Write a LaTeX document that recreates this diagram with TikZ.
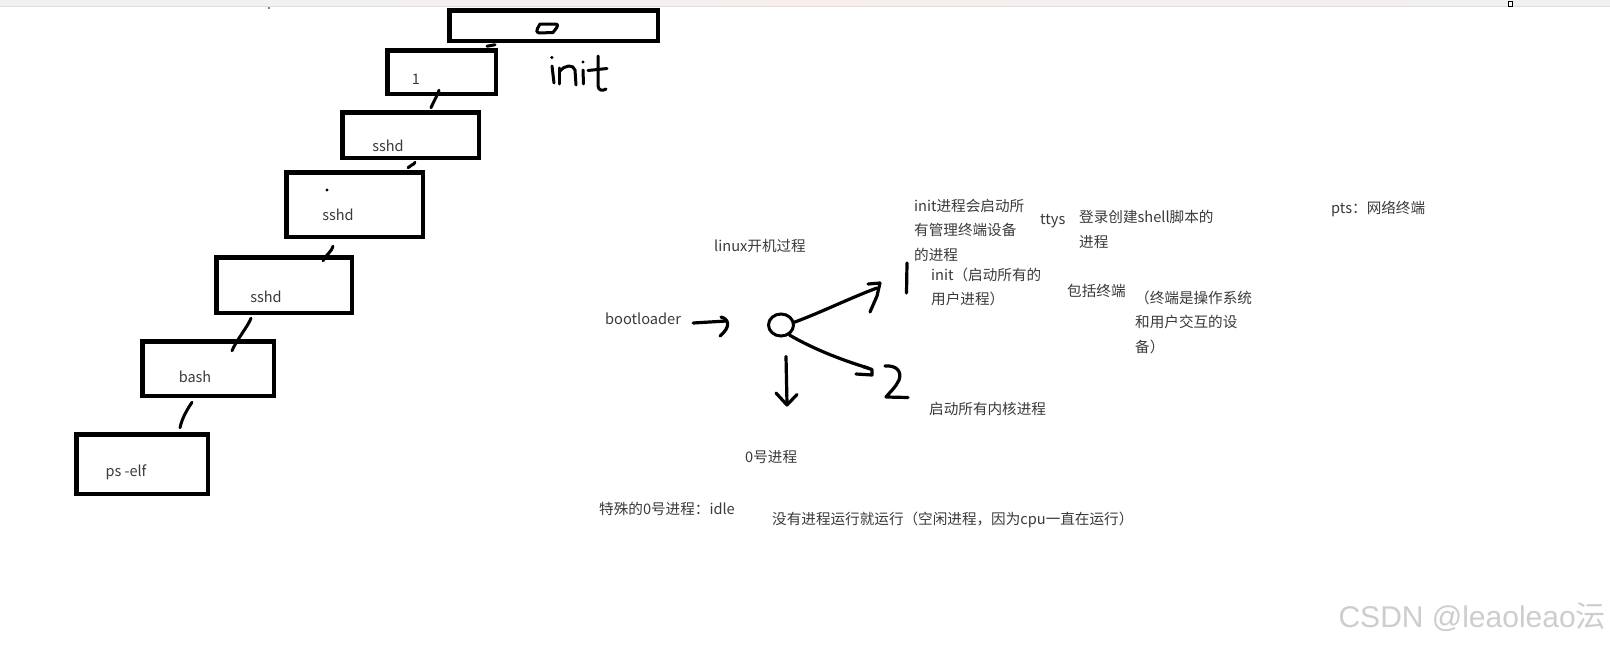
\documentclass[tikz,border=0pt]{standalone}
\usepackage{fontspec}
\setmainfont{Noto Sans CJK SC}
\newfontfamily\wmlatin{Liberation Sans}
\newfontfamily\wmcjk{Noto Sans CJK SC}
\usetikzlibrary{calc,shapes.geometric}
\definecolor{txtgray}{RGB}{58,58,58}
\definecolor{wmgray}{RGB}{205,205,205}
\definecolor{bandA}{RGB}{239,241,243}
\definecolor{bandB}{RGB}{248,238,238}
\definecolor{bandC}{RGB}{242,240,240}
\definecolor{bandline}{RGB}{222,222,222}
\begin{document}
\begin{tikzpicture}[x=1pt,y=-1pt,
  box/.style={draw=black,line width=4.5pt,rectangle,inner sep=0pt},
  hand/.style={draw=black,line width=3.2pt,line cap=round,line join=round},
  wiggle/.style={hand,line width=3pt},
  txt/.style={text=txtgray,font=\fontsize{14.6}{24.5}\selectfont,inner sep=0pt,align=left,anchor=west},
  boxtxt/.style={text=txtgray,font=\fontsize{14.5}{17}\selectfont,inner sep=0pt}
]
\useasboundingbox (0,0) rectangle (1610,645);
\fill[white] (0,0) rectangle (1610,645);
% top band
\shade[left color=bandA,right color=bandC,middle color=bandB] (0,0) rectangle (1610,6.5);
\draw[bandline,line width=1pt] (0,6.5) -- (1610,6.5);
\fill (269,8) circle (0.9);
\draw[line width=0.8pt,fill=white] (1508.5,1) rectangle (1512.5,6);

% boxes of the process chain
\node[box,minimum width=208.5pt,minimum height=30.5pt] (b0) at (553.5,25.5) {};
\node[box,minimum width=108.5pt,minimum height=43.5pt] (b1) at (441.5,72) {};
\node[box,minimum width=136.5pt,minimum height=45.5pt] (b2) at (410.5,135) {};
\node[box,minimum width=136.5pt,minimum height=64.5pt] (b3) at (354.5,204.5) {};
\node[box,minimum width=135.5pt,minimum height=55.5pt] (b4) at (284,285) {};
\node[box,minimum width=131.5pt,minimum height=54.5pt] (b5) at (208,368.5) {};
\node[box,minimum width=131.5pt,minimum height=59.5pt] (b6) at (142,464) {};

\node[boxtxt] (t1) at (416,79) {1};
\node[boxtxt] (t2) at (388,146) {sshd};
\node[boxtxt] (t3) at (338,215) {sshd};
\node[boxtxt] (t4) at (266,297) {sshd};
\node[boxtxt] (t5) at (195,377) {bash};
\node[boxtxt] (t6) at (126,472) {ps -elf};
\fill (327,190) circle (1.6);

% hand-drawn 0 in box 0
\draw[hand,line width=3pt] (540,24) -- (555,24) .. controls (558,24.5) .. (556.5,28) -- (553,32.5) -- (539,33) .. controls (536.5,32) .. (537.5,28.5) -- cycle;

% connectors between boxes
\coordinate (c0a) at ([xshift=-58.5pt,yshift=-1.75pt]b0.south);
\coordinate (c0b) at ([xshift=45.5pt,yshift=1.75pt]b1.north);
\coordinate (c1a) at ([xshift=-2.5pt,yshift=5.75pt]b1.south);
\coordinate (c1b) at ([xshift=20.5pt,yshift=2.25pt]b2.north);
\coordinate (c2a) at ([xshift=4.5pt,yshift=-2.25pt]b2.south);
\coordinate (c2b) at ([xshift=53.5pt,yshift=2.25pt]b3.north);
\coordinate (c3a) at ([xshift=-21.5pt,yshift=-7.25pt]b3.south);
\coordinate (c3b) at ([xshift=39pt,yshift=-5.75pt]b4.north);
\coordinate (c4a) at ([xshift=-33pt,yshift=-3.25pt]b4.south);
\coordinate (c4b) at ([xshift=24pt,yshift=-11.75pt]b5.north);
\coordinate (c5a) at ([xshift=-16pt,yshift=-4.25pt]b5.south);
\coordinate (c5b) at ([xshift=38pt,yshift=4.25pt]b6.north);
\draw[wiggle] (c0a) -- (c0b);
\draw[wiggle] (c1a) .. controls +(-1,4) and +(2,-5) .. (c1b);
\draw[wiggle] (c2a) .. controls +(-1,3) and +(2,-3) .. (c2b);
\draw[wiggle] (c3a) .. controls +(-1,5) and +(3,-6) .. (c3b);
\draw[wiggle] (c4a) .. controls +(-3,8) and +(4,-10) .. (c4b);
\draw[wiggle] (c5a) .. controls +(-4,6) and +(2,-10) .. (c5b);

% handwritten "init"
\fill (551.8,57.5) circle (1.7);
\draw[hand,line width=3pt] (552,66) -- (554,83);
\draw[hand,line width=3pt] (559,84) -- (559,68);
\draw[hand,line width=3pt] (560,71) .. controls (565,65) and (573,64) .. (575,70) -- (576,85);
\fill (583,62) circle (1.6);
\draw[hand,line width=3pt] (583,70) -- (583.5,84);
\draw[hand,line width=3pt] (598,56) -- (598,86) .. controls (598.5,91) and (603,91) .. (606,89);
\draw[hand,line width=3pt] (588,70.5) -- (607,68.5);

% right part
\node[txt] (linux) at (714,246) {linux开机过程};
\node[txt] (boot) at (605,319) {bootloader};
\node[draw=black,line width=3pt,ellipse,minimum width=25pt,minimum height=22pt,inner sep=0pt] (o) at (781,325) {};
\node[txt] (initmgr) at (914,230) {init进程会启动所\\有管理终端设备\\的进程};
\node[txt] (ttys) at (1040,221) {ttys};
\node[txt] (login) at (1079,229.5) {登录创建shell脚本的\\进程};
\node[txt] (pts) at (1331,209) {pts：网络终端};
\node[txt] (inituser) at (931,287) {init（启动所有的\\用户进程）};
\node[txt] (incl) at (1067,291) {包括终端};
\node[txt] (termdef) at (1135,322) {（终端是操作系统\\和用户交互的设\\备）};
\node[txt] (kern) at (929,409) {启动所有内核进程};
\node[txt] (p0) at (745,457) {0号进程};
\node[txt] (idle) at (599,509) {特殊的0号进程：idle};
\node[txt] (idledesc) at (772,520) {没有进程运行就运行（空闲进程，因为cpu一直在运行）};

% bootloader arrow
\coordinate (ba) at ([xshift=12pt,yshift=-4pt]boot.east);
\coordinate (bb) at ([xshift=-40.5pt,yshift=4pt]o.west);
\draw[hand] (ba) -- (bb);
\draw[hand] (721,317) .. controls (729,319) and (731,327) .. (720,336);

% upper arrow
\coordinate (ue) at (877,288);
\draw[hand] (o.12) .. controls (822,312) and (850,298) .. (ue);
\draw[hand] (868,284) -- (880,283) -- (877,296) -- (870,312);
\draw[hand] (907,263) -- (906.5,293);

% lower arrow and "2"
\coordinate (le) at (868,368);
\draw[hand] (o.-50) .. controls (815,350) and (845,361) .. (le);
\draw[hand] (863,366.5) -- (872,369.5) -- (872,375) -- (856,374);
\draw[hand] (885,366) .. controls (897,365) and (902,372) .. (899,380) .. controls (896,387) and (890,392) .. (886,397) -- (908,397.5);

% down arrow
\coordinate (da) at ([xshift=5pt,yshift=-19pt]o.south);
\coordinate (db) at (787,404);
\draw[hand] (da) -- (db);
\draw[hand] (776,393) -- (787,405) -- (797,394.5);

% watermark
\node[anchor=east,text=wmgray,inner sep=0pt,font=\wmlatin\fontsize{30}{32}\selectfont] (wm) at (1606,617) {CSDN @leaoleao{\wmcjk 沄}};
\end{tikzpicture}
\end{document}
